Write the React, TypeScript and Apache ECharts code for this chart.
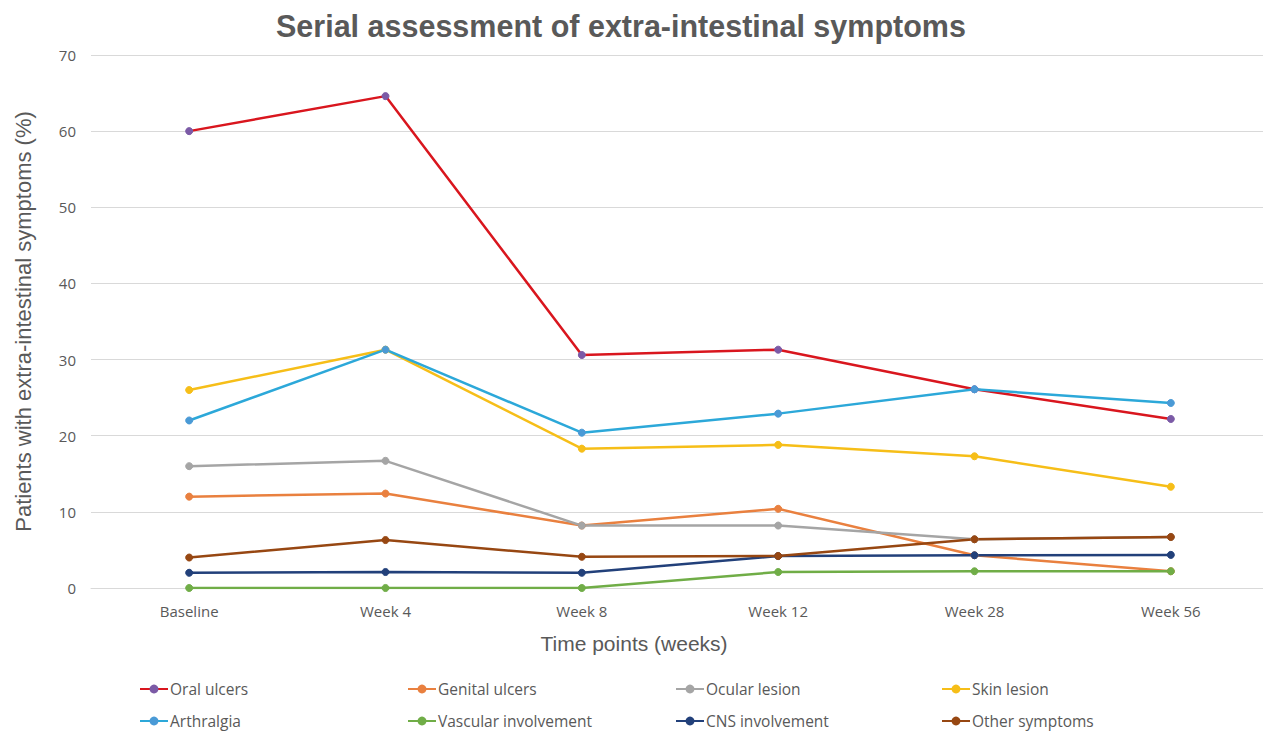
import React, { useEffect, useRef } from "react";
import * as echarts from "echarts";

const categories = ["Baseline", "Week 4", "Week 8", "Week 12", "Week 28", "Week 56"];
const yTicks = [0, 10, 20, 30, 40, 50, 60, 70];

const oralUlcers = [60, 64.6, 30.6, 31.3, 26.1, 22.2];
const genitalUlcers = [12, 12.4, 8.2, 10.4, 4.3, 2.2];
const ocularLesion = [16, 16.7, 8.2, 8.2, 6.4, 6.7];
const skinLesion = [26, 31.3, 18.3, 18.8, 17.3, 13.3];
const arthralgia = [22, 31.3, 20.4, 22.9, 26.1, 24.3];
const vascularInvolvement = [0, 0, 0, 2.1, 2.2, 2.2];
const cnsInvolvement = [2, 2.1, 2, 4.2, 4.3, 4.35];
const otherSymptoms = [4, 6.3, 4.1, 4.2, 6.4, 6.7];

const seriesDefs = [
  { name: "Oral ulcers", data: oralUlcers, line: "#D9161E", marker: "#7B5AA6" },
  { name: "Genital ulcers", data: genitalUlcers, line: "#E9803F", marker: "#E9803F" },
  { name: "Ocular lesion", data: ocularLesion, line: "#A5A5A5", marker: "#A5A5A5" },
  { name: "Skin lesion", data: skinLesion, line: "#F6BE18", marker: "#F6BE18" },
  { name: "Arthralgia", data: arthralgia, line: "#2CA8D9", marker: "#4A9AD6" },
  { name: "Vascular involvement", data: vascularInvolvement, line: "#70AD47", marker: "#70AD47" },
  { name: "CNS involvement", data: cnsInvolvement, line: "#22407A", marker: "#22407A" },
  { name: "Other symptoms", data: otherSymptoms, line: "#974712", marker: "#974712" },
];

const legendPos = [
  { left: 139, top: 681 },
  { left: 407, top: 681 },
  { left: 675, top: 681 },
  { left: 941, top: 681 },
  { left: 139, top: 713 },
  { left: 407, top: 713 },
  { left: 675, top: 713 },
  { left: 941, top: 713 },
];

const labelFont = "'Open Sans', 'Noto Sans', sans-serif";
const arial = "'Liberation Sans', Arial, sans-serif";

export default function App() {
  const ref = useRef<HTMLDivElement>(null);
  useEffect(() => {
    document.body.style.margin = "0";
    document.body.style.overflow = "hidden";
    const chart = echarts.init(ref.current!, null, { renderer: "svg" });
    chart.setOption({
      animation: false,
      backgroundColor: "#ffffff",
      title: {
        text: "Serial assessment of extra-intestinal symptoms",
        left: 271,
        top: 5,
        textStyle: { fontFamily: arial, fontSize: 30.5, fontWeight: "bold", color: "#595959" },
      },
      legend: seriesDefs.map((s, i) => ({
        data: [s.name],
        left: legendPos[i].left,
        top: legendPos[i].top,
        itemWidth: 28,
        itemHeight: 11,
        itemGap: 2,
        padding: 0,
        textStyle: { fontFamily: labelFont, fontSize: 15.5, color: "#595959", padding: [0, 0, 0, -3] },
      })),
      grid: { left: 91, top: 55, right: 1, bottom: 144, containLabel: false },
      xAxis: {
        type: "category",
        data: categories,
        boundaryGap: true,
        axisLine: { show: true, lineStyle: { color: "#d9d9d9", width: 1 } },
        axisTick: { show: false },
        axisLabel: { fontFamily: labelFont, fontSize: 15, color: "#595959", margin: 15 },
        name: "Time points (weeks)",
        nameLocation: "middle",
        nameGap: 45,
        nameTextStyle: { fontFamily: arial, fontSize: 21, color: "#595959", padding: [0, 92, 0, 0] },
      },
      yAxis: {
        type: "value",
        min: yTicks[0],
        max: yTicks[yTicks.length - 1],
        interval: 10,
        axisLine: { show: false },
        axisTick: { show: false },
        splitLine: { lineStyle: { color: "#d9d9d9", width: 1 } },
        axisLabel: { fontFamily: labelFont, fontSize: 15, color: "#595959", margin: 15 },
        name: "Patients with extra-intestinal symptoms (%)",
        nameLocation: "middle",
        nameGap: 57,
        nameTextStyle: { fontFamily: arial, fontSize: 22, color: "#595959" },
      },
      series: seriesDefs.map((s) => ({
        name: s.name,
        type: "line",
        data: s.data,
        symbol: "circle",
        symbolSize: 7,
        showSymbol: true,
        lineStyle: { color: s.line, width: 2.5 },
        itemStyle: { color: s.marker, borderColor: s.marker },
        color: s.line,
      })),
    });
    return () => chart.dispose();
  }, []);
  return <div ref={ref} style={{ width: 1270, height: 732 }} />;
}
